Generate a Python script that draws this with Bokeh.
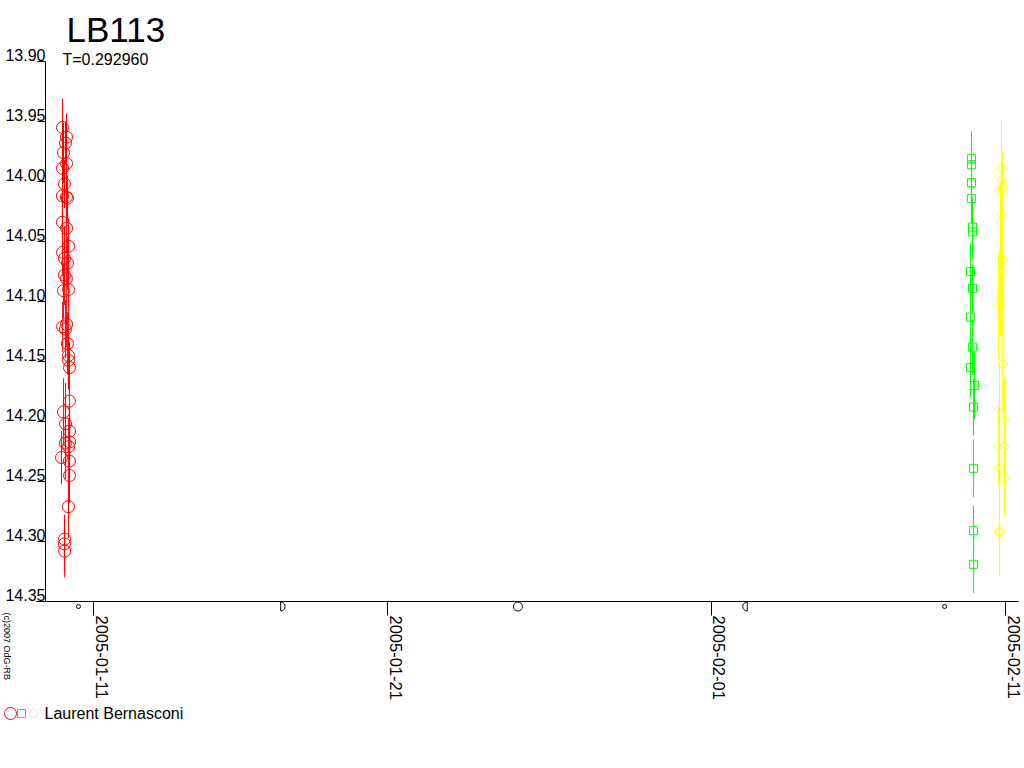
import math
import pandas as pd
from bokeh.plotting import figure
from bokeh.models import (Range1d, LinearAxis, DatetimeAxis, FixedTicker, PrintfTickFormatter,
                          DatetimeTickFormatter, CustomJSTickFormatter, Label, ColumnDataSource)
from bokeh.embed import file_html
from bokeh.resources import INLINE

# ---------------- data ----------------
star_name = "LB113"
period_text = "T=0.292960"
observer = "Laurent Bernasconi"
credit = "(c)2007 OdG-RB"

red_time = ["2005-01-09 22:43", "2005-01-10 01:58", "2005-01-10 01:10", "2005-01-09 23:32",
            "2005-01-10 02:00", "2005-01-09 22:45", "2005-01-10 00:20", "2005-01-09 22:40",
            "2005-01-10 01:55", "2005-01-10 02:47", "2005-01-09 22:38", "2005-01-10 02:03",
            "2005-01-10 03:36", "2005-01-09 22:48", "2005-01-10 00:22", "2005-01-10 02:50",
            "2005-01-10 00:18", "2005-01-10 01:53", "2005-01-09 23:30", "2005-01-10 03:40",
            "2005-01-09 22:50", "2005-01-10 01:08", "2005-01-10 02:05", "2005-01-10 02:44",
            "2005-01-10 03:33", "2005-01-10 03:38", "2005-01-10 04:25", "2005-01-10 04:22",
            "2005-01-09 23:35", "2005-01-10 01:12", "2005-01-10 04:28", "2005-01-10 04:30",
            "2005-01-10 01:05", "2005-01-10 03:42", "2005-01-09 21:53", "2005-01-10 04:20",
            "2005-01-10 04:26", "2005-01-10 03:35", "2005-01-10 00:24", "2005-01-10 00:16",
            "2005-01-10 00:27"]
red_mag = [13.955, 13.963, 13.968, 13.976, 13.985, 13.989, 14.002, 14.012, 14.013, 14.014,
           14.034, 14.039, 14.054, 14.059, 14.064, 14.068, 14.078, 14.081, 14.091, 14.090,
           14.121, 14.123, 14.119, 14.135, 14.145, 14.149, 14.155, 14.183, 14.192, 14.202,
           14.208, 14.217, 14.218, 14.221, 14.230, 14.233, 14.245, 14.271, 14.298, 14.302,
           14.308]
red_err = [0.024, 0.020, 0.018, 0.025, 0.022, 0.030, 0.020, 0.026, 0.022, 0.019,
           0.024, 0.021, 0.023, 0.020, 0.027, 0.022, 0.025, 0.020, 0.023, 0.028,
           0.021, 0.024, 0.019, 0.026, 0.022, 0.024, 0.021, 0.025, 0.028, 0.034,
           0.022, 0.026, 0.030, 0.024, 0.022, 0.027, 0.023, 0.026, 0.020, 0.024,
           0.022]

green_time = ["2005-02-09 20:14", "2005-02-09 20:18", "2005-02-09 20:16", "2005-02-09 20:12",
              "2005-02-09 21:03", "2005-02-09 21:07", "2005-02-09 19:25", "2005-02-09 21:05",
              "2005-02-09 19:29", "2005-02-09 21:09", "2005-02-09 19:27", "2005-02-09 22:43",
              "2005-02-09 21:54", "2005-02-09 21:56", "2005-02-09 21:52", "2005-02-09 21:58"]
green_mag = [13.981, 13.986, 14.001, 14.014, 14.038, 14.042, 14.075, 14.089,
             14.113, 14.138, 14.155, 14.170, 14.188, 14.239, 14.291, 14.319]
green_err = [0.023, 0.022, 0.020, 0.021, 0.025, 0.022, 0.024, 0.020,
             0.027, 0.023, 0.025, 0.028, 0.024, 0.024, 0.021, 0.024]

yellow_time = ["2005-02-10 20:44", "2005-02-10 20:46", "2005-02-10 21:33", "2005-02-10 20:42",
               "2005-02-10 20:48", "2005-02-10 19:55", "2005-02-10 21:31", "2005-02-10 21:35",
               "2005-02-10 19:57", "2005-02-10 18:17", "2005-02-10 21:37", "2005-02-10 19:06",
               "2005-02-10 23:11", "2005-02-10 18:19", "2005-02-10 23:13", "2005-02-10 19:08",
               "2005-02-10 23:09", "2005-02-10 19:04", "2005-02-10 19:10"]
yellow_mag = [13.989, 13.999, 14.005, 14.009, 14.027, 14.034, 14.065, 14.076, 14.096, 14.103,
              14.152, 14.190, 14.198, 14.221, 14.221, 14.239, 14.247, 14.291, 14.293]
yellow_err = [0.040, 0.035, 0.030, 0.038, 0.036, 0.033, 0.030, 0.035, 0.032, 0.045,
              0.040, 0.038, 0.035, 0.033, 0.037, 0.040, 0.032, 0.038, 0.035]

y_ticks = [13.90, 13.95, 14.00, 14.05, 14.10, 14.15, 14.20, 14.25, 14.30, 14.35]
x_ticks = ["2005-01-11", "2005-01-21", "2005-02-01", "2005-02-11"]

moon_time = ["2005-01-10 11:45", "2005-01-17 08:40", "2005-01-25 10:15",
             "2005-02-02 05:20", "2005-02-08 22:20"]
moon_phase = ["new", "first", "full", "last", "new"]

# ---------------- layout helpers (pixel <-> data) ----------------
def ms(s):
    return pd.Timestamp(s).value / 1e6

DAY = 86400000.0
FONT = "Liberation Sans"
W, H = 1022, 740
PX_DAY = 29.42           # pixels per day
REF_T = ms(x_ticks[0])
REF_PX = 93              # pixel column of the first date tick
PX_MAG = 1200.0          # pixels per magnitude
REF_MAG = y_ticks[0]
REF_PY = 61              # pixel row of the first magnitude tick

def px_x(px):
    return REF_T + (px - REF_PX) / PX_DAY * DAY

def py_y(py):
    return REF_MAG + (py - REF_PY) / PX_MAG

LBL_DX = 8 / PX_DAY * DAY     # date labels sit right of their ticks
LBL_DY = 7 / PX_MAG           # magnitude labels sit above their ticks

p = figure(width=W, height=H, x_axis_type=None, y_axis_type=None,
           x_range=Range1d(px_x(0), px_x(W)), y_range=Range1d(py_y(H), py_y(0)),
           output_backend="svg", toolbar_location=None, min_border=0)
p.outline_line_color = None
p.background_fill_color = "white"
p.border_fill_color = "white"
p.extra_x_ranges = {"xlbl": Range1d(px_x(0) - LBL_DX, px_x(W) - LBL_DX)}
p.extra_y_ranges = {"ylbl": Range1d(py_y(H) + LBL_DY, py_y(0) + LBL_DY)}

# y axis: line + ticks
yA = LinearAxis(ticker=FixedTicker(ticks=y_ticks), bounds=(y_ticks[0], y_ticks[-1]),
                fixed_location=px_x(45),
                major_tick_out=8, major_tick_in=0, minor_tick_out=0, minor_tick_in=0,
                formatter=CustomJSTickFormatter(code="return ''"),
                major_label_text_font_size="0px", major_label_standoff=0,
                axis_line_color="black", major_tick_line_color="black")
# y axis: labels sitting on top of their ticks
yB = LinearAxis(y_range_name="ylbl", ticker=FixedTicker(ticks=y_ticks),
                fixed_location=px_x(45),
                formatter=PrintfTickFormatter(format="%.2f"),
                axis_line_color=None, major_tick_line_color=None, minor_tick_line_color=None,
                major_tick_out=0, major_tick_in=0, minor_tick_out=0, minor_tick_in=0,
                major_label_standoff=0, major_label_text_font=FONT,
                major_label_text_font_size="16px", major_label_text_color="black")
p.add_layout(yA, "left")
p.add_layout(yB, "left")

x_tick_ms = [ms(t) for t in x_ticks]
xA = LinearAxis(ticker=FixedTicker(ticks=x_tick_ms), bounds=(px_x(36), px_x(1018)),
                fixed_location=y_ticks[-1],
                major_tick_out=14, major_tick_in=0, minor_tick_out=0, minor_tick_in=0,
                formatter=CustomJSTickFormatter(code="return ''"),
                major_label_text_font_size="0px", major_label_standoff=0,
                axis_line_color="black", major_tick_line_color="black")
fmt = "%Y-%m-%d"
xB = DatetimeAxis(x_range_name="xlbl", ticker=FixedTicker(ticks=x_tick_ms),
                  fixed_location=py_y(615),
                  formatter=DatetimeTickFormatter(days=fmt, months=fmt, years=fmt, hours=fmt,
                                                  hourmin=fmt, minutes=fmt, minsec=fmt,
                                                  seconds=fmt, milliseconds=fmt,
                                                  microseconds=fmt),
                  major_label_orientation=-math.pi / 2,
                  axis_line_color=None, major_tick_line_color=None, minor_tick_line_color=None,
                  major_tick_out=0, major_tick_in=0, minor_tick_out=0, minor_tick_in=0,
                  major_label_standoff=0, major_label_text_font=FONT,
                  major_label_text_font_size="16.5px", major_label_text_color="black")
p.add_layout(xA, "below")
p.add_layout(xB, "below")

def series(times, mags, errs, color, marker, size, angle=0.0):
    t = [ms(s) for s in times]
    src = ColumnDataSource(dict(t=t, mag=mags,
                                lo=[m - e for m, e in zip(mags, errs)],
                                hi=[m + e for m, e in zip(mags, errs)]))
    p.segment(x0="t", y0="lo", x1="t", y1="hi", source=src, line_color=color, line_width=1)
    return p.scatter(x="t", y="mag", source=src, marker=marker, size=size, angle=angle,
                     line_color=color, fill_color=None, line_width=1)

series(red_time, red_mag, red_err, "#ff0000", "circle", 12)
series(green_time, green_mag, green_err, "#00ff00", "square", 8)
series(yellow_time, yellow_mag, yellow_err, "#ffff00", "square", 7, math.pi / 4)

# moon phases just below the time axis
MOON_Y = py_y(606)
mt = [ms(t) for t in moon_time]
new_t = [t for t, ph in zip(mt, moon_phase) if ph == "new"]
full_t = [t for t, ph in zip(mt, moon_phase) if ph == "full"]
first_t = [t for t, ph in zip(mt, moon_phase) if ph == "first"]
last_t = [t for t, ph in zip(mt, moon_phase) if ph == "last"]
p.scatter(x=new_t, y=[MOON_Y] * len(new_t), marker="circle", size=4,
          line_color="black", fill_color=None, line_width=1)
p.scatter(x=full_t, y=[MOON_Y] * len(full_t), marker="circle", size=9,
          line_color="black", fill_color=None, line_width=1)
p.wedge(x=first_t, y=[MOON_Y] * len(first_t), radius=4.5, radius_units="screen",
        start_angle=-math.pi / 2, end_angle=math.pi / 2,
        line_color="black", fill_color=None, line_width=1)
p.wedge(x=last_t, y=[MOON_Y] * len(last_t), radius=4.5, radius_units="screen",
        start_angle=math.pi / 2, end_angle=3 * math.pi / 2,
        line_color="black", fill_color=None, line_width=1)

# titles
p.add_layout(Label(x=px_x(66), y=py_y(28.5), text=star_name,
                   text_font=FONT, text_font_size="35px", text_color="black",
                   text_align="left", text_baseline="alphabetic"))
p.add_layout(Label(x=px_x(62), y=py_y(59), text=period_text,
                   text_font=FONT, text_font_size="16px", text_color="black",
                   text_align="left", text_baseline="alphabetic"))
# credit (vertical)
p.add_layout(Label(x=px_x(1), y=py_y(612), text=credit,
                   text_font=FONT, text_font_size="9px", text_color="black",
                   angle=-math.pi / 2, text_align="left", text_baseline="bottom"))
# legend row: one observer, three symbols
LEG_Y = py_y(713)
p.scatter(x=[px_x(10)], y=[LEG_Y], marker="circle", size=12,
          line_color="#ff0000", fill_color=None, line_width=1)
p.scatter(x=[px_x(21)], y=[LEG_Y], marker="square", size=8,
          line_color="#00ff00", fill_color=None, line_width=1)
p.scatter(x=[px_x(33)], y=[LEG_Y], marker="square", size=7, angle=math.pi / 4,
          line_color="#ffff00", fill_color=None, line_width=1)
p.add_layout(Label(x=px_x(44), y=py_y(713), text=observer,
                   text_font=FONT, text_font_size="16px", text_color="black",
                   text_align="left", text_baseline="alphabetic"))

open("out.html", "w").write(file_html(p, INLINE))
